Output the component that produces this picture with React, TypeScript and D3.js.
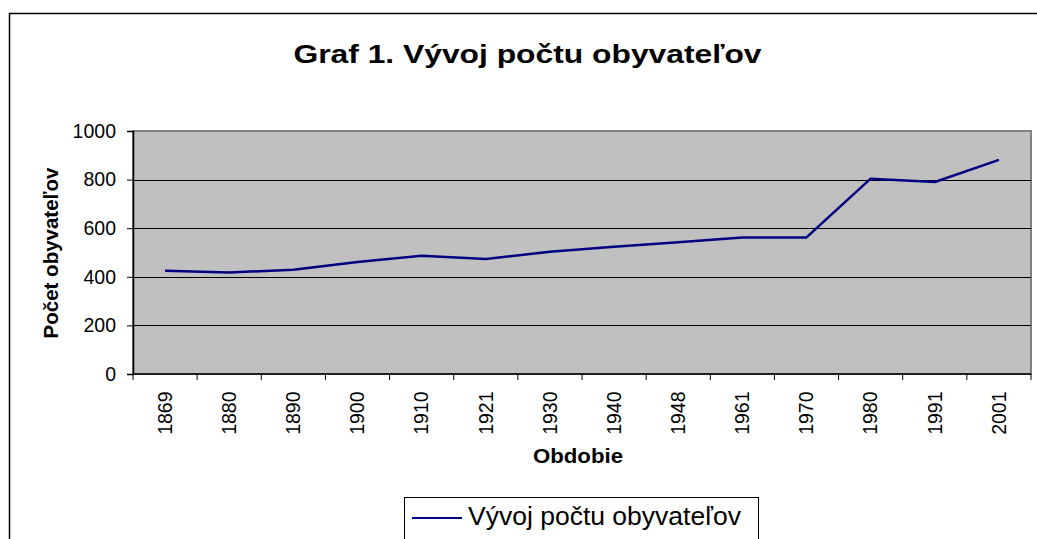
import { useEffect, useRef } from 'react';
import * as d3 from 'd3';

const years = ['1869', '1880', '1890', '1900', '1910', '1921', '1930', '1940', '1948', '1961', '1970', '1980', '1991', '2001'];
const population = [425, 418, 429, 461, 487, 473, 503, 524, 542, 562, 562, 804, 790, 881];
const yTicks = [0, 200, 400, 600, 800, 1000];

const seriesName = 'Vývoj počtu obyvateľov';
const titleText = 'Graf 1. Vývoj počtu obyvateľov';
const yTitle = 'Počet obyvateľov';
const xTitle = 'Obdobie';

const FONT = '"Liberation Sans", Arial, sans-serif';

export default function App() {
  const svgRef = useRef<SVGSVGElement | null>(null);

  useEffect(() => {
    if (!svgRef.current) return;
    const width = 1037;
    const height = 539;
    const plot = { left: 133, right: 1031, top: 131, bottom: 374 };

    const root = d3.select(svgRef.current);
    root.selectAll('*').remove();
    root.attr('width', width).attr('height', height).style('font-family', FONT);

    // white page + outer chart border (runs off the right/bottom edge)
    root.append('rect').attr('width', width).attr('height', height).attr('fill', '#fff');
    root
      .append('rect')
      .attr('x', 9.5)
      .attr('y', 13.5)
      .attr('width', width + 20)
      .attr('height', height + 20)
      .attr('fill', 'none')
      .attr('stroke', '#000')
      .attr('stroke-width', 1.5);

    const x = d3.scaleBand<string>().domain(years).range([plot.left, plot.right]);
    const y = d3.scaleLinear().domain([0, 1000]).range([plot.bottom, plot.top]);

    // plot area
    root
      .append('rect')
      .attr('x', plot.left)
      .attr('y', plot.top)
      .attr('width', plot.right - plot.left)
      .attr('height', plot.bottom - plot.top)
      .attr('fill', '#c0c0c0')
      .attr('stroke', '#808080')
      .attr('stroke-width', 2);

    // gridlines
    root
      .append('g')
      .selectAll('line')
      .data(yTicks.filter((t) => t > 0 && t < 1000))
      .join('line')
      .attr('x1', plot.left)
      .attr('x2', plot.right)
      .attr('y1', (d) => Math.round(y(d)) + 0.5)
      .attr('y2', (d) => Math.round(y(d)) + 0.5)
      .attr('stroke', '#000')
      .attr('stroke-width', 1);

    // y axis
    const yAxis = root
      .append('g')
      .attr('transform', `translate(${plot.left},0)`)
      .call(d3.axisLeft(y).tickValues(yTicks).tickFormat(d3.format('d')).tickSize(6).tickPadding(11));
    yAxis.select('.domain').attr('stroke', '#000').attr('stroke-width', 1.5);
    yAxis.selectAll('.tick line').attr('stroke', '#000');
    yAxis
      .selectAll('.tick text')
      .attr('font-family', FONT)
      .attr('font-size', 19.5)
      .attr('fill', '#000');

    // x axis: ticks at category boundaries, labels rotated
    const xg = root.append('g').attr('transform', `translate(0,${plot.bottom})`);
    xg.append('line')
      .attr('x1', plot.left)
      .attr('x2', plot.right)
      .attr('stroke', '#000')
      .attr('stroke-width', 1.5);
    const bounds = years.map((d) => x(d) as number).concat([plot.right]);
    xg.selectAll('line.tick')
      .data(bounds)
      .join('line')
      .attr('class', 'tick')
      .attr('x1', (d) => d)
      .attr('x2', (d) => d)
      .attr('y1', 0)
      .attr('y2', 6)
      .attr('stroke', '#000');
    xg.selectAll('text')
      .data(years)
      .join('text')
      .attr(
        'transform',
        (d) => `translate(${(x(d) as number) + x.bandwidth() / 2 + 6.8},17.5) scale(1.08,1) rotate(-90)`
      )
      .attr('text-anchor', 'end')
      .attr('font-size', 19.5)
      .text((d) => d);

    // series line
    const line = d3
      .line<number>()
      .x((_, i) => (x(years[i]) as number) + x.bandwidth() / 2)
      .y((d) => y(d));
    root
      .append('path')
      .datum(population)
      .attr('d', line)
      .attr('fill', 'none')
      .attr('stroke', '#000080')
      .attr('stroke-width', 2.5)
      .attr('stroke-linejoin', 'round');

    // titles
    root
      .append('text')
      .attr('transform', 'translate(527.5,63) scale(1.2,1)')
      .attr('text-anchor', 'middle')
      .attr('font-size', 26.5)
      .attr('font-weight', 'bold')
      .text(titleText);
    root
      .append('text')
      .attr('transform', 'translate(58,253) rotate(-90)')
      .attr('text-anchor', 'middle')
      .attr('font-size', 20.5)
      .attr('font-weight', 'bold')
      .text(yTitle);
    root
      .append('text')
      .attr('transform', 'translate(578,463) scale(1.14,1)')
      .attr('text-anchor', 'middle')
      .attr('font-size', 19.5)
      .attr('font-weight', 'bold')
      .text(xTitle);

    // legend
    const lg = root.append('g');
    lg.append('rect')
      .attr('x', 404.5)
      .attr('y', 497.5)
      .attr('width', 354)
      .attr('height', 60)
      .attr('fill', '#fff')
      .attr('stroke', '#000')
      .attr('stroke-width', 1);
    lg.append('line')
      .attr('x1', 412)
      .attr('x2', 462)
      .attr('y1', 518)
      .attr('y2', 518)
      .attr('stroke', '#000080')
      .attr('stroke-width', 2);
    lg.append('text')
      .attr('x', 468)
      .attr('y', 525)
      .attr('font-size', 26.5)
      .text(seriesName);
  }, []);

  return <svg ref={svgRef} style={{ position: 'absolute', left: 0, top: 0 }} />;
}
